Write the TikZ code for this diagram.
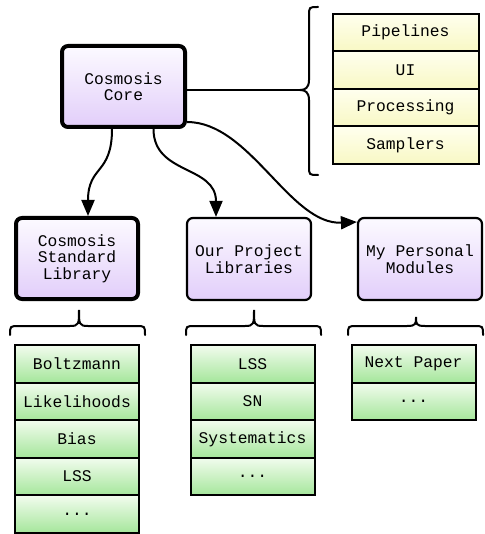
\documentclass[tikz,border=0pt]{standalone}
\usepackage{fontspec}
\setmonofont{Liberation Mono}
\usetikzlibrary{arrows.meta}
\definecolor{lavtop}{RGB}{252,250,255}
\definecolor{lavbot}{RGB}{226,206,250}
\definecolor{grtop}{RGB}{242,252,238}
\definecolor{grbot}{RGB}{165,230,155}
\definecolor{yetop}{RGB}{255,255,238}
\definecolor{yebot}{RGB}{248,248,196}
\newcommand{\upbrc}[5]{% x1 x2 xm ytip ybase
  \draw[brc] (#1,#5+9) .. controls (#1,#5) .. (#1+9,#5) -- (#3-9,#5) .. controls (#3,#5) and (#3,#5-2) .. (#3,#4)
    .. controls (#3,#5-2) and (#3,#5) .. (#3+9,#5) -- (#2-9,#5) .. controls (#2,#5) .. (#2,#5+9);}
\begin{document}
\begin{tikzpicture}[x=1pt,y=-1pt,
 txt/.style={font=\ttfamily\fontsize{16.3}{16.5}\selectfont, align=center},
 modbox/.style={txt, draw, rounded corners=6pt, top color=lavtop, bottom color=lavbot, line width=2.2pt, minimum width=124pt, minimum height=82pt, inner sep=0pt},
 heavy/.style={line width=4pt},
 item/.style={txt, draw, line width=2pt, inner sep=0pt},
 gitem/.style={item, top color=grtop, bottom color=grbot, minimum width=124pt, minimum height=37.6pt},
 yitem/.style={item, top color=yetop, bottom color=yebot, minimum width=146pt, minimum height=37.5pt},
 conn/.style={line width=2pt, -{Triangle[length=16pt,width=13pt]}},
 brc/.style={line width=2pt, line cap=round}
]
\useasboundingbox (0,0) rectangle (484,534);

% module boxes
\node[modbox, heavy, minimum width=123pt, minimum height=81pt] (core) at (123.5,86.5) {Cosmosis\\Core};
\node[modbox, heavy, minimum width=122pt, minimum height=81pt] (std) at (77,258.5) {Cosmosis\\Standard\\Library};
\node[modbox] (proj) at (249,259) {Our Project\\Libraries};
\node[modbox] (pers) at (420,259) {My Personal\\Modules};

% core components
\node[yitem] (pipe) at (405.5,32.75) {Pipelines};
\node[yitem] (ui) at (405.5,70.25) {UI};
\node[yitem] (procs) at (405.5,107.75) {Processing};
\node[yitem] (samp) at (405.5,145.25) {Samplers};

% standard library
\node[gitem] (boltz) at (77,363.8) {Boltzmann};
\node[gitem] (like) at (77,401.4) {Likelihoods};
\node[gitem] (bias) at (77,439) {Bias};
\node[gitem] (lssa) at (77,476.6) {LSS};
\node[gitem] (dotsa) at (77,514.2) {...};

% project libraries
\node[gitem] (lssb) at (252.5,363.8) {LSS};
\node[gitem] (sn) at (252.5,401.4) {SN};
\node[gitem] (syst) at (252.5,439) {Systematics};
\node[gitem] (dotsb) at (252.5,476.6) {...};

% personal modules
\node[gitem] (next) at (413.5,363.8) {Next Paper};
\node[gitem] (dotsc) at (413.5,401.4) {...};

% right brace
\coordinate (rb) at (300,90);
\draw[brc] (core.east |- rb) -- (rb);
\draw[brc] (318,7) .. controls (309,7) .. (309,16) -- (309,80) .. controls (309,88) and (305,90) .. (rb)
  .. controls (305,90) and (309,92) .. (309,100) -- (309,166) .. controls (309,175) .. (318,175);

% lower braces
\upbrc{10}{145}{79}{310}{326}
\upbrc{186}{321}{254}{310}{326}
\upbrc{348}{483}{416}{317}{326}

% connectors
\draw[conn] (core.south -| 112,0) .. controls (112,175) and (88,165) .. (std.north -| 88,0);
\draw[conn] (core.south -| 153.5,0) .. controls (153.5,175) and (216,165) .. (proj.north -| 216,0);
\draw[conn] (core.east |- 0,122) .. controls (250,122) and (290,225) .. (pers.west |- 0,222);
\end{tikzpicture}
\end{document}
